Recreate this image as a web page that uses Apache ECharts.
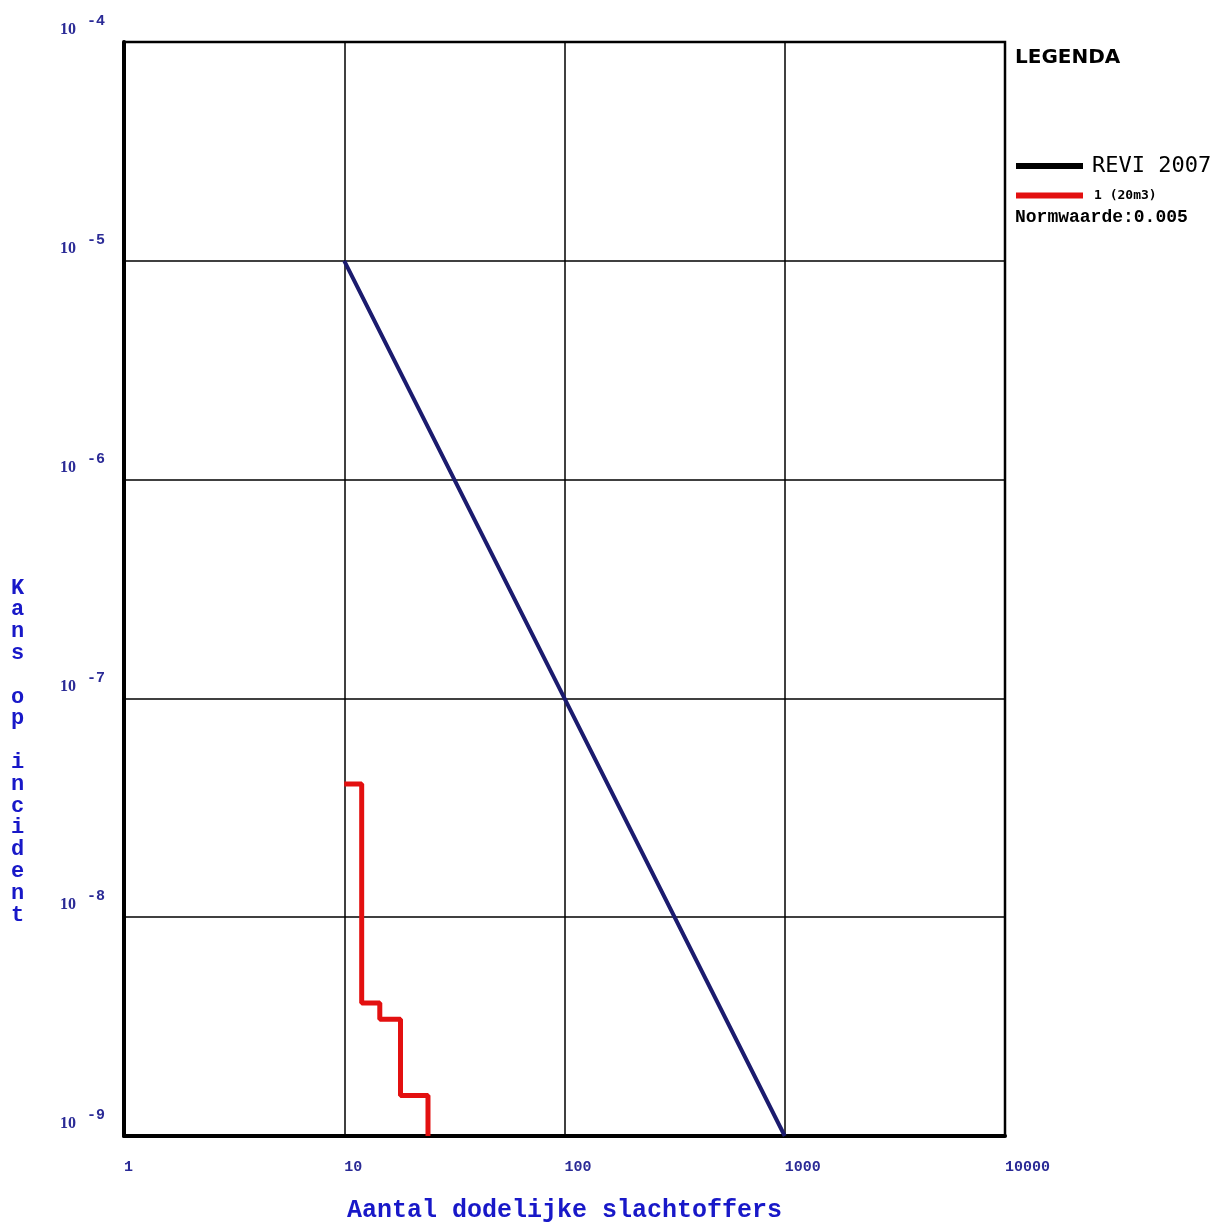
<!DOCTYPE html>
<html>
<head>
<meta charset="utf-8">
<script src="https://cdn.jsdelivr.net/npm/echarts@6/dist/echarts.min.js"></script>
<style>
html,body{margin:0;padding:0;background:#fff;}
#chart{width:1221px;height:1228px;}
</style>
</head>
<body>
<div id="chart"></div>
<script>
// Data
const xTickValues = [1, 10, 100, 1000, 10000];
const yTickExponents = [-9, -8, -7, -6, -5, -4];
const reviX = [10, 100, 1000];
const reviY = [1e-5, 1e-7, 1e-9];
const scenX = [10, 12, 14.5, 18, 24];
const scenY = [4.06e-8, 4.05e-9, 3.42e-9, 1.53e-9, 1e-9];
const seriesNames = ['REVI 2007', '1 (20m3)'];
const xTitle = 'Aantal dodelijke slachtoffers';
const yTitle = 'Kans op incident';
const legendTitle = 'LEGENDA';
const normText = 'Normwaarde:0.005';

const chart = echarts.init(document.getElementById('chart'), null, {renderer: 'canvas'});
const labelBlue = '#2a2a96';
const titleBlue = '#1818c8';

const option = {
  animation: false,
  backgroundColor: '#fff',
  title: {
    text: legendTitle,
    left: 1015, top: 48, padding: 0,
    textStyle: {fontFamily: 'DejaVu Sans', fontWeight: 'bold', fontSize: 20, color: '#000'}
  },
  legend: {
    orient: 'vertical',
    left: 1016, top: 155, padding: 0,
    itemWidth: 67, itemHeight: 6, itemGap: 12,
    icon: 'rect',
    data: [
      {name: seriesNames[0], itemStyle: {color: '#000'}, textStyle: {fontFamily: 'DejaVu Sans Mono', fontSize: 22, color: '#000', padding: [0, 0, 0, 4]}},
      {name: seriesNames[1], itemStyle: {color: '#e31010'}, textStyle: {fontFamily: 'DejaVu Sans Mono', fontWeight: 'bold', fontSize: 13, color: '#000', padding: [0, 0, 0, 6]}}
    ]
  },
  grid: {
    left: 124, right: 216, top: 42, bottom: 86,
    show: true, borderColor: '#000', borderWidth: 2.5,
    containLabel: false
  },
  xAxis: {
    type: 'log', logBase: 10, min: 1, max: 10000,
    name: xTitle, nameLocation: 'middle', nameGap: 62,
    nameTextStyle: {fontFamily: 'Liberation Mono', fontWeight: 'bold', fontSize: 25, color: titleBlue},
    axisLine: {show: true, lineStyle: {color: '#000', width: 4}},
    axisTick: {show: false},
    splitLine: {show: true, lineStyle: {color: '#000', width: 1.5}},
    axisLabel: {
      margin: 24, align: 'left',
      fontFamily: 'Liberation Mono', fontWeight: 'bold', fontSize: 15, color: labelBlue,
      formatter: v => xTickValues.includes(Math.round(v)) ? String(Math.round(v)) : ''
    }
  },
  yAxis: {
    type: 'log', logBase: 10, min: 1e-9, max: 1e-4,
    axisLine: {show: true, lineStyle: {color: '#000', width: 4}},
    axisTick: {show: false},
    splitLine: {show: true, lineStyle: {color: '#000', width: 1.5}},
    axisLabel: {
      margin: 19, verticalAlign: 'bottom', padding: [0, 0, 4, 0],
      formatter: v => {
        const e = Math.round(Math.log10(v));
        return yTickExponents.includes(e) ? '{a|10}{b|' + e + '}' : '';
      },
      rich: {
        a: {fontFamily: 'Liberation Serif', fontWeight: 'bold', fontSize: 16, color: labelBlue, lineHeight: 24, verticalAlign: 'bottom'},
        b: {fontFamily: 'Liberation Mono', fontWeight: 'bold', fontSize: 15, color: labelBlue, verticalAlign: 'top', padding: [0, 0, 0, 11]}
      }
    }
  },
  graphic: [
    {
      type: 'text', left: 11, top: 577,
      style: {
        text: yTitle.split('').join('\n'),
        fontFamily: 'Liberation Mono', fontWeight: 'bold', fontSize: 22, lineHeight: 21.8,
        fill: titleBlue, align: 'center'
      }
    },
    {
      type: 'text', left: 1015, top: 208,
      style: {text: normText, fontFamily: 'Liberation Mono', fontWeight: 'bold', fontSize: 18, fill: '#000'}
    }
  ],
  series: [
    {
      name: seriesNames[0], type: 'line', symbol: 'none',
      data: reviX.map((x, i) => [x, reviY[i]]),
      lineStyle: {color: '#1b1b6e', width: 4},
      itemStyle: {color: '#1b1b6e'}
    },
    {
      name: seriesNames[1], type: 'line', symbol: 'none', step: 'end',
      data: scenX.map((x, i) => [x, scenY[i]]),
      lineStyle: {color: '#e31010', width: 5},
      itemStyle: {color: '#e31010'}
    }
  ]
};
chart.setOption(option);
</script>
</body>
</html>
